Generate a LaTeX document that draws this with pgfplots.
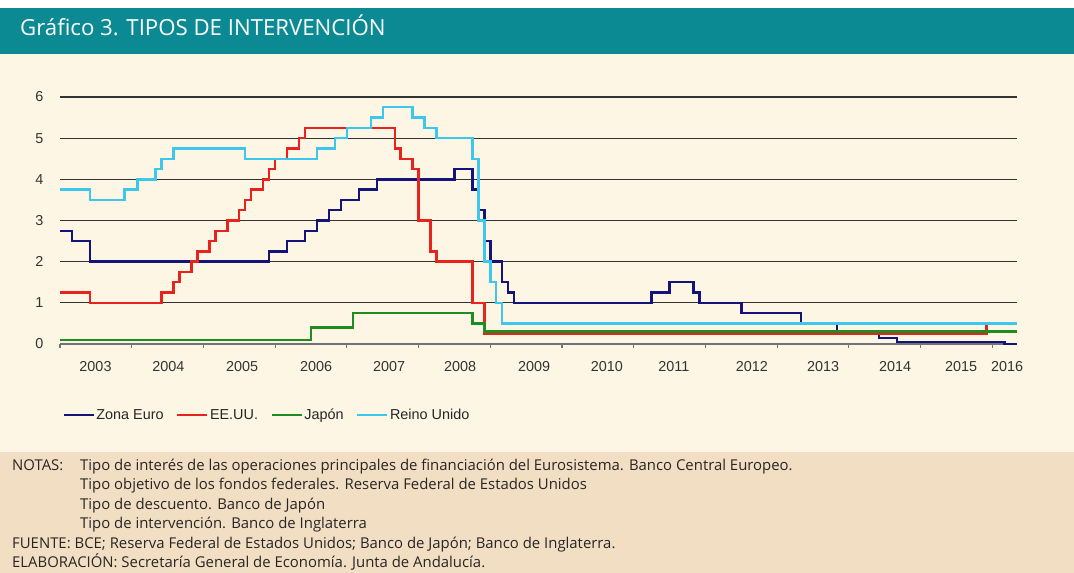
\documentclass[border=0pt]{standalone}
\usepackage{fontspec}
\setmainfont{Liberation Sans}
\newfontfamily\notafont{Open Sans}
\usepackage{pgfplots}
\pgfplotsset{compat=1.18}

\definecolor{barra}{HTML}{0B8A94}
\definecolor{fondo}{HTML}{FEF6E4}
\definecolor{notas}{HTML}{F2DEC3}
\definecolor{zona}{HTML}{14137A}
\definecolor{eeuu}{HTML}{E8221C}
\definecolor{japon}{HTML}{1E8C1E}
\definecolor{ruk}{HTML}{3CC8EC}

\begin{document}
\begin{tikzpicture}[x=1pt,y=1pt]
\fill[white] (0,0) rectangle (1074,573);
\useasboundingbox (0,0) rectangle (1074,573);
\fill[barra] (0,519) rectangle (1074,565);
\fill[fondo] (0,120.5) rectangle (1074,519);
\fill[notas] (0,0) rectangle (1074,120.5);

\node[anchor=base west, inner sep=0pt, text=white,
      font=\notafont\fontsize{22.2}{26}\selectfont] at (20,537) {Gráfico 3. TIPOS DE INTERVENCIÓN};

\begin{scope}[every node/.style={anchor=base west, inner sep=0pt, text=black!85,
      font=\notafont\fontsize{14.9}{17}\selectfont}]
\node at (12,102) {NOTAS:};
\node at (80,102) {Tipo de interés de las operaciones principales de financiación del Eurosistema. Banco Central Europeo.};
\node at (80,83) {Tipo objetivo de los fondos federales. Reserva Federal de Estados Unidos};
\node at (80,63) {Tipo de descuento. Banco de Japón};
\node at (80,44) {Tipo de intervención. Banco de Inglaterra};
\node at (12,24) {FUENTE: BCE; Reserva Federal de Estados Unidos; Banco de Japón; Banco de Inglaterra.};
\node at (12,5) {ELABORACIÓN: Secretaría General de Economía. Junta de Andalucía.};
\end{scope}

\begin{axis}[
  at={(60pt,229pt)}, anchor=south west, scale only axis,
  width=956.7pt, height=247pt,
  xmin=2003, xmax=2016.34, ymin=0, ymax=6,
  axis lines=left,
  x axis line style={-, draw=black!55, line width=2pt},
  y axis line style={draw=none},
  xtick={2003,2004,...,2016}, xticklabels={},
  tick align=outside, major tick length=4pt,
  xtick style={draw=black!55, line width=1.2pt},
  extra x ticks={2003.495,2004.510,2005.538,2006.570,2007.589,2008.579,2009.611,2010.625,2011.559,2012.647,2013.641,2014.646,2015.566,2016.208},
  extra x tick labels={2003,2004,2005,2006,2007,2008,2009,2010,2011,2012,2013,2014,2015,2016},
  extra x tick style={major tick length=0pt, xtick style={draw=none}},
  ytick={0,1,...,6}, ytick style={draw=none},
  ymajorgrids, grid style={black!80, line width=1.2pt},
  tick label style={font=\fontsize{14.4}{16}\selectfont, text=black!80},
  /pgf/number format/assume math mode=true,
  xticklabel style={yshift=-14pt},
  yticklabel style={xshift=-9pt},
  clip=false,
  legend columns=4,
  legend style={at={(axis description cs:0.0024,-0.2874)}, anchor=west,
    draw=none, fill=none, inner sep=0pt,
    font=\fontsize{14.4}{16}\selectfont,
    nodes={inner sep=0.5pt, text=black!85},
    /tikz/every even column/.append style={column sep=12pt},
    /tikz/every odd column/.append style={column sep=1pt}},
  legend image code/.code={\draw[#1, line width=2.4pt] (0pt,0pt) -- (30pt,0pt);},
  every axis plot/.append style={line width=2.4pt, const plot}
]
\addplot[zona] coordinates {
(2003.000,2.75)(2003.167,2.50)(2003.417,2.00)(2005.917,2.25)(2006.167,2.50)
(2006.417,2.75)(2006.583,3.00)(2006.750,3.25)(2006.917,3.50)(2007.167,3.75)
(2007.417,4.00)(2008.500,4.25)(2008.750,3.75)(2008.833,3.25)(2008.917,2.50)
(2009.000,2.00)(2009.167,1.50)(2009.250,1.25)(2009.333,1.00)(2011.250,1.25)
(2011.500,1.50)(2011.833,1.25)(2011.917,1.00)(2012.500,0.75)(2013.333,0.50)
(2013.833,0.25)(2014.417,0.15)(2014.667,0.05)(2016.167,0.00)(2016.340,0.00)};
\addplot[eeuu] coordinates {
(2003.000,1.25)(2003.417,1.00)(2004.417,1.25)(2004.583,1.50)(2004.667,1.75)
(2004.833,2.00)(2004.917,2.25)(2005.083,2.50)(2005.167,2.75)(2005.333,3.00)
(2005.500,3.25)(2005.583,3.50)(2005.667,3.75)(2005.833,4.00)(2005.917,4.25)
(2006.000,4.50)(2006.167,4.75)(2006.333,5.00)(2006.417,5.25)(2007.667,4.75)
(2007.750,4.50)(2007.917,4.25)(2008.000,3.00)(2008.167,2.25)(2008.250,2.00)
(2008.750,1.00)(2008.917,0.25)(2015.917,0.50)(2016.340,0.50)};
\addplot[japon] coordinates {
(2003.000,0.10)(2006.500,0.40)(2007.083,0.75)(2008.750,0.50)(2008.917,0.30)
(2016.340,0.30)};
\addplot[ruk] coordinates {
(2003.000,3.75)(2003.417,3.50)(2003.900,3.75)(2004.083,4.00)(2004.333,4.25)
(2004.417,4.50)(2004.583,4.75)(2005.583,4.50)(2006.583,4.75)(2006.833,5.00)
(2007.000,5.25)(2007.333,5.50)(2007.500,5.75)(2007.917,5.50)(2008.083,5.25)
(2008.250,5.00)(2008.750,4.50)(2008.833,3.00)(2008.917,2.00)(2009.000,1.50)
(2009.083,1.00)(2009.167,0.50)(2016.340,0.50)};
\legend{Zona Euro, EE.UU., Japón, Reino Unido}
\end{axis}
\end{tikzpicture}
\end{document}
